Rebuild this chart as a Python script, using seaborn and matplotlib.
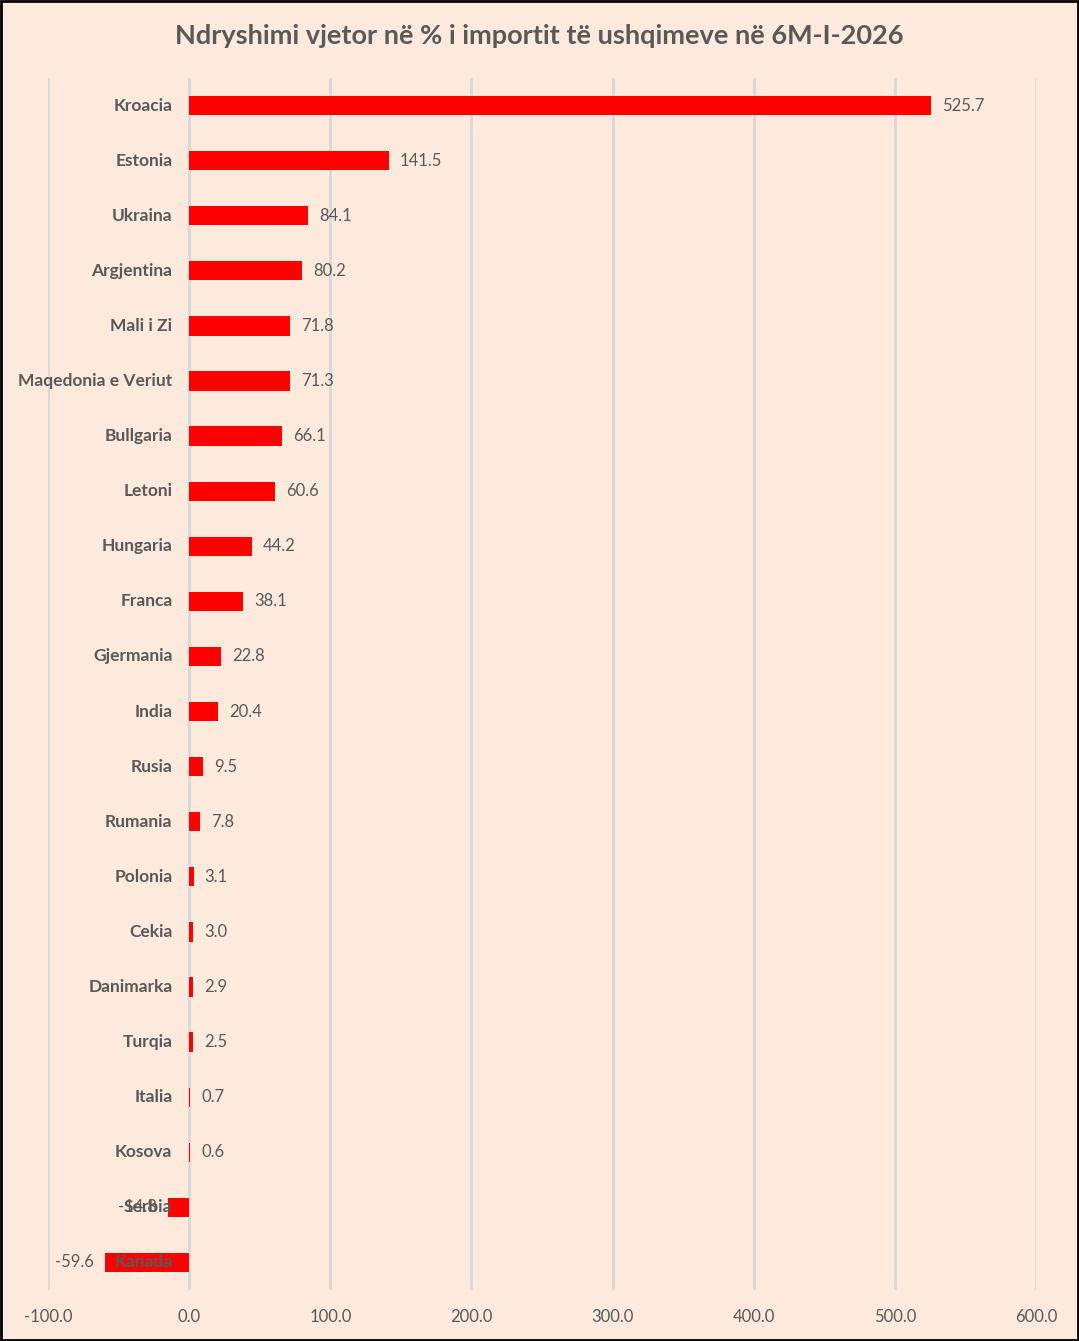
import pandas as pd
import numpy as np
import seaborn as sns
from matplotlib import pyplot as plt

countries = ["Kroacia", "Estonia", "Ukraina", "Argjentina", "Mali i Zi", "Maqedonia e Veriut",
             "Bullgaria", "Letoni", "Hungaria", "Franca", "Gjermania", "India", "Rusia",
             "Rumania", "Polonia", "Cekia", "Danimarka", "Turqia", "Italia", "Kosova",
             "Serbia", "Kanada"]
changes = [525.7, 141.5, 84.1, 80.2, 71.8, 71.3, 66.1, 60.6, 44.2, 38.1, 22.8, 20.4, 9.5,
           7.8, 3.1, 3.0, 2.9, 2.5, 0.7, 0.6, -14.8, -59.6]
x_ticks = [-100, 0, 100, 200, 300, 400, 500, 600]

data = pd.DataFrame({"country": countries, "change": changes})

bg = "#FDEADC"
grey = "#595959"

sns.set_theme(style="white")
plt.rcParams['font.family'] = ['Lato', 'DejaVu Sans']

fig = plt.figure(figsize=(10.79, 13.41), dpi=100, facecolor=bg)
ax = fig.add_axes([48 / 1079, 51 / 1341, 988 / 1079, 1212 / 1341])
ax.set_facecolor(bg)

sns.barplot(data=data, x="change", y="country", orient="h", color="#FF0000",
            width=0.35, saturation=1, linewidth=0, ax=ax, zorder=3)

ax.set_xlim(-100, 600)
ax.set_ylim(len(countries) - 0.5, -0.5)
ax.set_xticks(x_ticks)
ax.set_xticklabels([f"{t:.1f}" for t in x_ticks], color=grey, fontsize=12)
ax.tick_params(axis="x", length=0, pad=14)
ax.set_yticks([])
ax.set_xlabel("")
ax.set_ylabel("")
for s in ax.spines.values():
    s.set_visible(False)
ax.grid(axis="x", color="#D9D9D9", linewidth=2, zorder=0)

# category names next to the zero axis
for i, (c, v) in enumerate(zip(countries, changes)):
    ax.annotate(c, xy=(0, i), xytext=(-12, 0), textcoords="offset points",
                ha="right", va="center", fontsize=12.5, fontweight="bold", color=grey, zorder=5)
    if v >= 0:
        ax.annotate(f"{v:.1f}", xy=(v, i), xytext=(8, 0), textcoords="offset points",
                    ha="left", va="center", fontsize=12, color=grey, zorder=5)
    else:
        ax.annotate(f"{v:.1f}", xy=(v, i), xytext=(-8, 0), textcoords="offset points",
                    ha="right", va="center", fontsize=12, color=grey, zorder=5)

fig.text(0.5, 1 - 36 / 1341, "Ndryshimi vjetor në % i importit të ushqimeve në 6M-I-2026",
         ha="center", va="center", fontsize=19.5, fontweight="bold", color=grey)

fig.patches.append(plt.Rectangle((0.001, 0.001), 0.998, 0.998, transform=fig.transFigure,
                                 fill=False, edgecolor="black", linewidth=2))

plt.savefig("out.png", dpi=100, facecolor=bg)
